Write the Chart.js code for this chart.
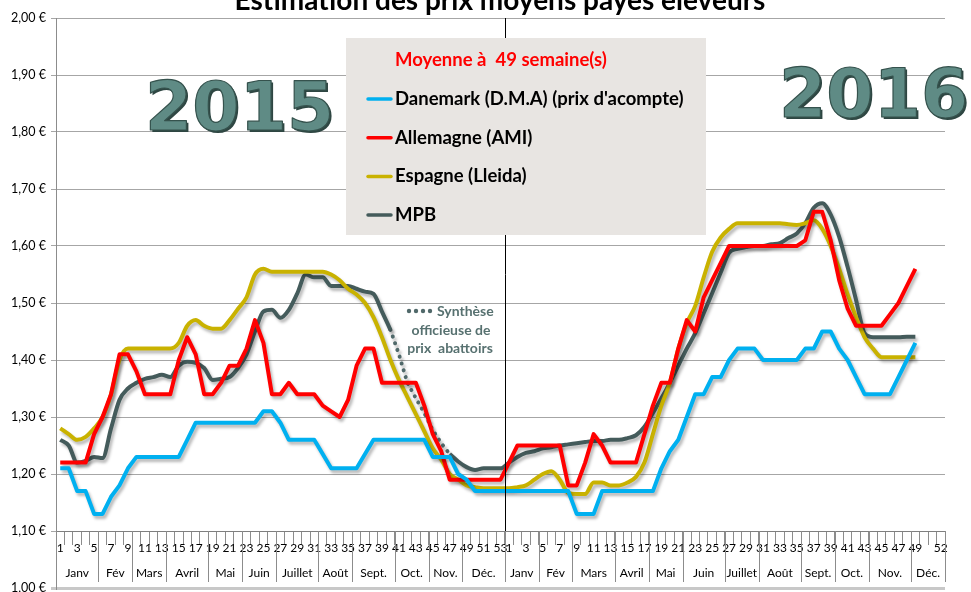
<!DOCTYPE html>
<html lang="fr">
<head>
<meta charset="utf-8">
<title>Estimation des prix moyens payés éleveurs</title>
<script src="https://cdn.jsdelivr.net/npm/chart.js@4.4.1/dist/chart.umd.min.js"></script>
<style>
  html, body { margin: 0; padding: 0; background: #fff; }
  #wrap { position: relative; width: 971px; height: 592px; }
</style>
</head>
<body>
<div id="wrap"><canvas id="prixChart"></canvas></div>
<script>
// semaines 2015 (53) puis 2016 (52)
const weeks2015 = [];
for (let w = 1; w <= 53; w++) weeks2015.push(w);
const weeks2016 = [];
for (let w = 1; w <= 52; w++) weeks2016.push(w);
const weekLabels = weeks2015.concat(weeks2016).map(String);

// nombre de semaines par mois
const monthNames = ['Janv', 'Fév', 'Mars', 'Avril', 'Mai', 'Juin', 'Juillet', 'Août', 'Sept.', 'Oct.', 'Nov.', 'Déc.'];
const monthWeeks2015 = [5, 4, 4, 5, 4, 4, 5, 4, 5, 4, 4, 5];
const monthWeeks2016 = [4, 4, 5, 4, 4, 5, 4, 5, 4, 4, 5, 4];

// prix (€/kg)
const danemark2015 = [1.21,1.21,1.17,1.17,1.13,1.13,1.16,1.18,1.21,1.23, 1.23,1.23,1.23,1.23,1.23,1.26,1.29,1.29,1.29,1.29,
  1.29,1.29,1.29,1.29,1.31,1.31,1.29,1.26,1.26,1.26, 1.26,1.235,1.21,1.21,1.21,1.21,1.235,1.26,1.26,1.26,
  1.26,1.26,1.26,1.26,1.23,1.23,1.23,1.20,1.19,1.17, 1.17,1.17,1.17];
const danemark2016 = [1.17,1.17,1.17,1.17,1.17,1.17,1.17,1.17,1.13,1.13, 1.13,1.17,1.17,1.17,1.17,1.17,1.17,1.17,1.21,1.24,
  1.26,1.30,1.34,1.34,1.37,1.37,1.40,1.42,1.42,1.42, 1.40,1.40,1.40,1.40,1.40,1.42,1.42,1.45,1.45,1.42,
  1.40,1.37,1.34,1.34,1.34,1.34,1.37,1.40,1.43];

const allemagne2015 = [1.22,1.22,1.22,1.22,1.27,1.30,1.34,1.41,1.41,1.38, 1.34,1.34,1.34,1.34,1.40,1.44,1.41,1.34,1.34,1.36,
  1.39,1.39,1.42,1.47,1.43,1.34,1.34,1.36,1.34,1.34, 1.34,1.32,1.31,1.30,1.33,1.39,1.42,1.42,1.36,1.36,
  1.36,1.36,1.36,1.32,1.27,1.24,1.19,1.19,1.19,1.19, 1.19,1.19,1.19];
const allemagne2016 = [1.22,1.25,1.25,1.25,1.25,1.25,1.25,1.18,1.18,1.22, 1.27,1.25,1.22,1.22,1.22,1.22,1.27,1.32,1.36,1.36,
  1.42,1.47,1.45,1.51,1.54,1.57,1.60,1.60,1.60,1.60, 1.60,1.60,1.60,1.60,1.60,1.61,1.66,1.66,1.61,1.54,
  1.49,1.46,1.46,1.46,1.46,1.48,1.50,1.53,1.56];

const espagne2015 = [1.28,1.27,1.26,1.265,1.28,1.30,1.34,1.40,1.42,1.42, 1.42,1.42,1.42,1.42,1.43,1.46,1.47,1.46,1.455,1.455,
  1.47,1.49,1.51,1.55,1.56,1.555,1.555,1.555,1.555,1.555, 1.555,1.555,1.55,1.54,1.525,1.515,1.50,1.475,1.44,1.40,
  1.365,1.335,1.305,1.275,1.245,1.225,1.20,1.19,1.18,1.177, 1.175,1.175,1.175];
const espagne2016 = [1.175,1.177,1.18,1.19,1.20,1.205,1.19,1.167,1.165,1.165, 1.185,1.185,1.18,1.18,1.185,1.195,1.22,1.27,1.32,1.36,
  1.42,1.465,1.495,1.545,1.59,1.615,1.63,1.64,1.64,1.64, 1.64,1.64,1.64,1.638,1.637,1.64,1.645,1.63,1.60,1.56,
  1.515,1.475,1.44,1.42,1.405,1.405,1.405,1.405,1.405];

const mpb2015 = [1.26,1.25,1.22,1.223,1.23,1.228,1.28,1.33,1.35,1.36, 1.367,1.37,1.374,1.37,1.39,1.397,1.395,1.386,1.365,1.367,
  1.37,1.386,1.41,1.45,1.485,1.488,1.474,1.488,1.517,1.55, 1.545,1.545,1.53,1.53,1.53,1.525,1.52,1.516,1.485,1.453,
  null,null,null,null,null,null,1.235,1.222,1.212,1.207, 1.21,1.21,1.21];
const mpb2016 = [1.22,1.23,1.237,1.24,1.245,1.247,1.25,1.252,1.254,1.256, 1.258,1.258,1.26,1.26,1.263,1.268,1.283,1.307,1.333,1.36,
  1.39,1.42,1.447,1.482,1.517,1.553,1.588,1.595,1.598,1.60, 1.60,1.603,1.605,1.614,1.622,1.64,1.667,1.675,1.655,1.616,
  1.563,1.505,1.447,1.44,1.44,1.44,1.44,1.441,1.441];

// synthèse officieuse (pointillés), semaines 40 à 47 de 2015
const synthese2015 = [null,null,null,null,null,null,null,null,null,null, null,null,null,null,null,null,null,null,null,null,
  null,null,null,null,null,null,null,null,null,null, null,null,null,null,null,null,null,null,null,1.453,
  1.41,1.36,1.333,1.307,1.277,1.254,1.235,null,null,null, null,null,null];

const fmtEuro = v => v.toFixed(2).replace('.', ',') + ' €';

Chart.defaults.font.family = 'Lato';

const decor = {
  id: 'decor',
  beforeDatasetsDraw(chart) {
    const ctx = chart.ctx;
    ctx.save();
    ctx.font = 'bold 68px "DejaVu Sans"';
    ctx.textBaseline = 'alphabetic';
    ctx.lineJoin = 'round';
    [['2015', 145, 130], ['2016', 779, 117]].forEach(t => {
      ctx.fillStyle = '#2E4642';
      ctx.fillText(t[0], t[1] + 2, t[2] + 2);
      ctx.fillStyle = '#5F8B85';
      ctx.fillText(t[0], t[1], t[2]);
      ctx.strokeStyle = '#35524D';
      ctx.lineWidth = 1.2;
      ctx.strokeText(t[0], t[1], t[2]);
    });
    ctx.restore();
  },
  beforeDatasetDraw(chart) {
    const ctx = chart.ctx;
    ctx.save();
    ctx.shadowColor = 'rgba(0,0,0,0.28)';
    ctx.shadowBlur = 3;
    ctx.shadowOffsetX = 2;
    ctx.shadowOffsetY = 3;
  },
  afterDatasetDraw(chart) {
    chart.ctx.restore();
  },
  afterDatasetsDraw(chart) {
    const ctx = chart.ctx;
    const xs = chart.scales.x, ys = chart.scales.y;
    const half = (xs.getPixelForValue(1) - xs.getPixelForValue(0)) / 2;
    const axisY = ys.getPixelForValue(1.10);
    ctx.save();
    // séparation 2015 / 2016
    const xYear = Math.round(xs.getPixelForValue(52) + half) + 0.5;
    ctx.strokeStyle = '#000';
    ctx.lineWidth = 1;
    ctx.beginPath();
    ctx.moveTo(xYear, chart.chartArea.top);
    ctx.lineTo(xYear, axisY);
    ctx.stroke();

    // encadré légende
    ctx.fillStyle = '#E8E5E2';
    ctx.fillRect(346, 38, 360, 197);
    ctx.textBaseline = 'middle';
    ctx.font = 'bold 18.5px Lato';
    ctx.fillStyle = '#FF0000';
    ctx.fillText('Moyenne à  49 semaine(s)', 395, 60);
    chart.data.datasets.slice(0, 4).forEach((ds, i) => {
      const y = 99 + i * 38.7;
      ctx.strokeStyle = ds.borderColor;
      ctx.lineWidth = 3.5;
      ctx.lineCap = 'round';
      ctx.beginPath();
      ctx.moveTo(368, y);
      ctx.lineTo(391, y);
      ctx.stroke();
      ctx.fillStyle = '#000';
      ctx.fillText(ds.label, 395, y);
    });

    // synthèse officieuse
    ctx.fillStyle = '#50696A';
    for (let k = 0; k < 4; k++) {
      ctx.beginPath();
      ctx.arc(409 + k * 7, 311, 2.2, 0, Math.PI * 2);
      ctx.fill();
    }
    ctx.font = 'bold 14px Lato';
    ctx.fillStyle = '#577170';
    ctx.textAlign = 'left';
    ctx.fillText('Synthèse', 437, 311);
    ctx.textAlign = 'center';
    ctx.fillText('officieuse de', 451, 330);
    ctx.fillText('prix  abattoirs', 450, 348);
    ctx.restore();
  },
  afterDraw(chart) {
    const ctx = chart.ctx;
    const xs = chart.scales.x, ys = chart.scales.y;
    const half = (xs.getPixelForValue(1) - xs.getPixelForValue(0)) / 2;
    const axisY = ys.getPixelForValue(1.10);
    ctx.save();
    // titre (coupé en haut comme dans l'original)
    ctx.font = 'bold 28px Lato';
    ctx.fillStyle = '#000';
    ctx.textAlign = 'center';
    ctx.textBaseline = 'alphabetic';
    ctx.fillText('Estimation des prix moyens payés éleveurs', 500, 10);

    // mois
    ctx.font = '12px Lato';
    ctx.textBaseline = 'middle';
    ctx.strokeStyle = '#8C8C8C';
    ctx.lineWidth = 1;
    let idx = 0;
    [monthWeeks2015, monthWeeks2016].forEach(counts => {
      counts.forEach((n, m) => {
        const left = xs.getPixelForValue(idx) - half;
        const right = xs.getPixelForValue(idx + n - 1) + half;
        const xr = Math.round(right) + 0.5;
        ctx.beginPath();
        ctx.moveTo(xr, axisY);
        ctx.lineTo(xr, 582);
        ctx.stroke();
        ctx.fillStyle = '#000';
        ctx.fillText(monthNames[m], (left + right) / 2, 573);
        idx += n;
      });
    });
    ctx.restore();
  }
};

new Chart(document.getElementById('prixChart'), {
  type: 'line',
  data: {
    labels: weekLabels,
    datasets: [
      { label: 'Danemark (D.M.A) (prix d\'acompte)', data: danemark2015.concat(danemark2016), borderColor: '#00B0F0' },
      { label: 'Allemagne (AMI)', data: allemagne2015.concat(allemagne2016), borderColor: '#FF0000' },
      { label: 'Espagne (Lleida)', data: espagne2015.concat(espagne2016), borderColor: '#C9B200', cubicInterpolationMode: 'monotone', tension: 0.4 },
      { label: 'MPB', data: mpb2015.concat(mpb2016), borderColor: '#445B5B', cubicInterpolationMode: 'monotone', tension: 0.4 },
      { label: 'Synthèse officieuse de prix abattoirs', data: synthese2015, borderColor: '#50696A',
        borderWidth: 4, borderDash: [0.1, 7], borderCapStyle: 'round' }
    ]
  },
  options: {
    responsive: true,
    maintainAspectRatio: false,
    animation: false,
    layout: { padding: { top: 18, right: 26, bottom: 4, left: 0 } },
    elements: {
      point: { radius: 0 },
      line: { borderWidth: 4, fill: false, tension: 0, borderJoinStyle: 'round' }
    },
    plugins: {
      legend: { display: false },
      tooltip: { enabled: false },
      title: { display: false }
    },
    scales: {
      x: {
        type: 'category',
        position: { y: 1.10 },
        offset: true,
        grid: { drawOnChartArea: false, drawTicks: true, tickLength: 13, color: '#8C8C8C', offset: true },
        border: { color: '#7F7F7F', width: 1 },
        ticks: {
          autoSkip: false,
          maxRotation: 0,
          minRotation: 0,
          padding: -3,
          color: '#000',
          font: { size: 12 },
          callback(value, index) {
            const lab = weekLabels[index];
            const w = +lab;
            if (index < 53) return w % 2 === 1 ? lab : '';
            if (w === 52) return lab;
            return (w % 2 === 1 && w !== 51) ? lab : '';
          }
        },
        afterFit(scale) {
          scale.height = 0;
          scale.paddingLeft = 0;
          scale.paddingRight = 0;
        }
      },
      y: {
        min: 1.0,
        max: 2.0,
        ticks: {
          stepSize: 0.1,
          padding: 5,
          color: '#000',
          font: { size: 12.5 },
          callback: v => fmtEuro(v)
        },
        grid: {
          tickLength: 5,
          color: ctx => (Math.abs(ctx.tick.value - 1.0) < 0.001 ? '#C8C8C8' : '#A6A6A6'),
          lineWidth: ctx => (Math.abs(ctx.tick.value - 1.0) < 0.001 ? 3 : 1)
        },
        border: { color: '#8C8C8C' },
        afterFit(scale) {
          scale.width = 56;
          scale.paddingTop = 0;
          scale.paddingBottom = 0;
        }
      }
    }
  },
  plugins: [decor]
});
</script>
</body>
</html>
